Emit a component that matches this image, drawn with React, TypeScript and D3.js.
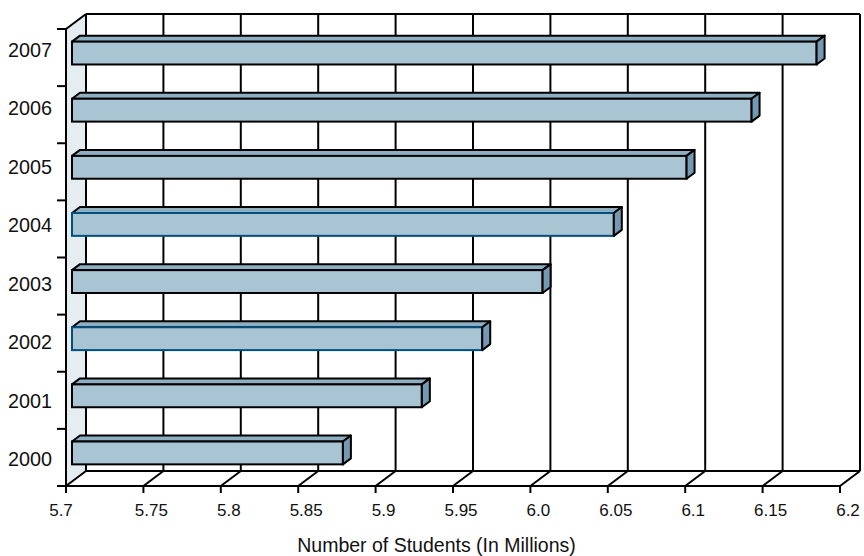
import React from 'react';
import * as d3 from 'd3';

const years = ['2000', '2001', '2002', '2003', '2004', '2005', '2006', '2007'];
const students = [5.875, 5.926, 5.965, 6.004, 6.05, 6.097, 6.139, 6.181];
const xTicks = [5.7, 5.75, 5.8, 5.85, 5.9, 5.95, 6.0, 6.05, 6.1, 6.15, 6.2];
const xTickLabels = ['5.7', '5.75', '5.8', '5.85', '5.9', '5.95', '6.0', '6.05', '6.1', '6.15', '6.2'];
const blueOutlinedYears = ['2002', '2004'];
const axisTitle = 'Number of Students (In Millions)';

const W = 864;
const H = 556;
const DX = 20; // depth offset
const DY = -15;
const FONT = 'Liberation Sans, Arial, Helvetica, sans-serif';

export default function App() {
  const topDown = [...years].reverse();
  const x = d3.scaleLinear().domain([5.7, 6.2]).range([66, 840]);
  const y = d3.scaleBand().domain(topDown).range([29, 486]);
  const labelY = d3.scalePoint().domain(topDown).range([50, 459]);

  const x0 = x(5.7);
  const yTop = y.range()[0];
  const yBot = y.range()[1];
  const xEnd = x(6.2);

  const bw = y.bandwidth();
  const barH = bw * 0.4;
  const f1 = 0.3; // bar front depth fraction
  const f2 = 0.7; // bar back depth fraction
  const bdx = DX * (f2 - f1);
  const bdy = DY * (f2 - f1);

  const lineStyle = { stroke: '#000', strokeWidth: 2, fill: 'none' } as const;

  const bars = years.map((yr, i) => {
    const v = students[i];
    const cy = (y(yr) as number) + bw / 2 + DY * f1;
    const xa = x0 + DX * f1;
    const xb = x(v) + DX * f1;
    const t = cy - barH / 2;
    const b = cy + barH / 2;
    const frontStroke = blueOutlinedYears.includes(yr) ? '#00507f' : '#000';
    return (
      <g key={yr}>
        <polygon
          points={`${xa},${t} ${xa + bdx},${t + bdy} ${xb + bdx},${t + bdy} ${xb},${t}`}
          fill="#8eaec2"
          stroke="#000"
          strokeWidth={2}
          strokeLinejoin="round"
        />
        <rect x={xa} y={t} width={xb - xa} height={b - t} fill="#a9c5d3" stroke={frontStroke} strokeWidth={2} />
        <polygon
          points={`${xb},${t} ${xb + bdx},${t + bdy} ${xb + bdx},${b + bdy} ${xb},${b}`}
          fill="#7399b3"
          stroke="#000"
          strokeWidth={2}
          strokeLinejoin="round"
        />
      </g>
    );
  });

  return (
    <div style={{ position: 'absolute', left: 0, top: 0 }}>
      <svg width={W} height={H} viewBox={`0 0 ${W} ${H}`} style={{ display: 'block', background: '#fff' }}>
        {/* left wall */}
        <polygon
          points={`${x0},${yBot} ${x0 + DX},${yBot + DY} ${x0 + DX},${yTop + DY} ${x0},${yTop}`}
          fill="#e5edf1"
        />
        {/* back wall grid lines */}
        {xTicks.map((t) => (
          <line key={'g' + t} x1={x(t) + DX} x2={x(t) + DX} y1={yTop + DY} y2={yBot + DY} {...lineStyle} />
        ))}
        {/* back top edge */}
        <line x1={x0 + DX} x2={xEnd + DX} y1={yTop + DY} y2={yTop + DY} {...lineStyle} />
        {/* floor back edge */}
        <line x1={x0 + DX} x2={xEnd + DX} y1={yBot + DY} y2={yBot + DY} {...lineStyle} />
        {/* floor diagonals */}
        {xTicks.map((t) => (
          <line key={'d' + t} x1={x(t)} x2={x(t) + DX} y1={yBot} y2={yBot + DY} {...lineStyle} />
        ))}
        {/* left wall top diagonal */}
        <line x1={x0} x2={x0 + DX} y1={yTop} y2={yTop + DY} {...lineStyle} />
        {/* front axes */}
        <line x1={x0} x2={x0} y1={yTop} y2={yBot} {...lineStyle} />
        <line x1={x0} x2={xEnd} y1={yBot} y2={yBot} {...lineStyle} />
        {/* y ticks */}
        {[...topDown.map((d) => y(d) as number), yBot].map((ty, i) => (
          <line key={'yt' + i} x1={x0 - 9} x2={x0} y1={ty} y2={ty} {...lineStyle} />
        ))}
        {/* x ticks */}
        {xTicks.map((t) => (
          <line key={'xt' + t} x1={x(t)} x2={x(t)} y1={yBot} y2={yBot + 7} {...lineStyle} />
        ))}
        {bars}
        {/* y labels */}
        {topDown.map((d) => (
          <text
            key={'yl' + d}
            x={52}
            y={(labelY(d) as number) + 7}
            textAnchor="end"
            fontFamily={FONT}
            fontSize={19.8}
            fill="#111"
          >
            {d}
          </text>
        ))}
        {/* x labels */}
        {xTicks.map((t, i) => (
          <text
            key={'xl' + t}
            x={i === 0 ? x(t) - 5 : x(t) + 8}
            y={516}
            textAnchor="middle"
            fontFamily={FONT}
            fontSize={17}
            fill="#111"
          >
            {xTickLabels[i]}
          </text>
        ))}
        <text x={436.5} y={552} textAnchor="middle" fontFamily={FONT} fontSize={19.5} fill="#111">
          {axisTitle}
        </text>
      </svg>
    </div>
  );
}
